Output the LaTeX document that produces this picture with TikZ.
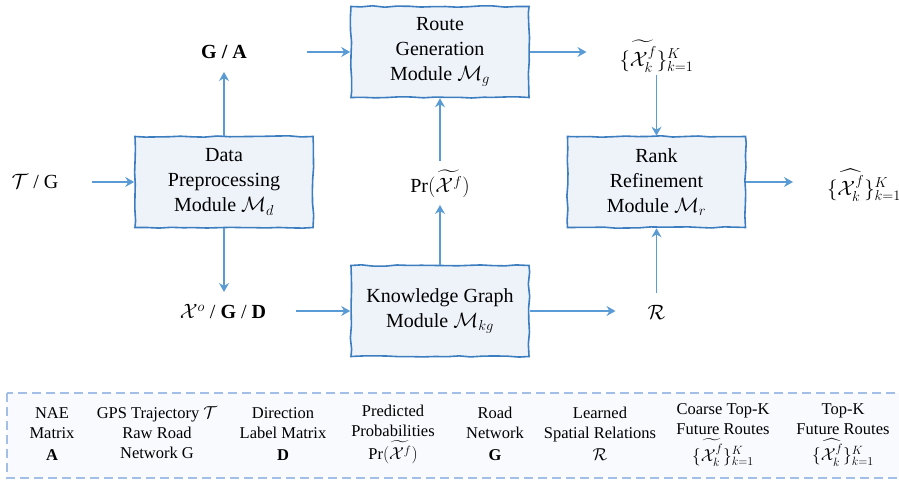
\documentclass[tikz,border=0pt]{standalone}
\usepackage{fontspec}
\setmainfont{Liberation Serif}
\usepackage{amsmath}
\usetikzlibrary{arrows.meta,decorations.pathmorphing,calc}
\definecolor{boxline}{HTML}{3C7DC0}
\definecolor{boxfill}{HTML}{EEF3FA}
\definecolor{arrowc}{HTML}{5B9BD5}
\definecolor{legdash}{HTML}{A3BFE8}
\definecolor{legfill}{HTML}{F8FAFE}
\begin{document}
\begin{tikzpicture}[x=1pt,y=-1pt,
  module/.style={draw=boxline, fill=boxfill, line width=1.6pt, minimum width=178pt, minimum height=91pt,
    align=center, inner sep=2pt, font=\fontsize{20}{25}\selectfont,
    decorate, decoration={random steps, segment length=12pt, amplitude=0.7pt}},
  lab/.style={inner sep=0pt, font=\fontsize{20}{25}\selectfont},
  legtext/.style={align=center, inner sep=0pt, font=\fontsize{16.5}{20}\selectfont},
  arr/.style={draw=arrowc, line width=1.4pt, -{Stealth[length=9pt,width=10pt,inset=3pt]}}]
\pgfmathsetseed{7}
\useasboundingbox (0,0) rectangle (899,481);

% modules
\node[module] (route) at (440,52)    {Route\\Generation\\Module $\mathcal{M}_g$};
\node[module] (data)  at (224,182)   {Data\\Preprocessing\\Module $\mathcal{M}_d$};
\node[module] (rank)  at (656.5,182) {Rank\\Refinement\\Module $\mathcal{M}_r$};
\node[module] (kg)    at (440,311)   {Knowledge Graph\\Module $\mathcal{M}_{kg}$};

% labels
\node[lab] (TG)   at (35,182)    {$\mathcal{T}$ / G};
\node[lab] (GA)   at (224,52)    {\textbf{G / A}};
\node[lab] (XoGD) at (223,312)   {$\mathcal{X}^o$ / \textbf{G} / \textbf{D}};
\node[lab] (Pr)   at (440,184)   {Pr$(\widetilde{\mathcal{X}^f})$};
\node[lab] (Xt)   at (656.5,56)  {$\{\widetilde{\mathcal{X}_k^f}\}_{k=1}^K$};
\node[lab] (R)    at (656.5,312) {$\mathcal{R}$};
\node[lab] (out)  at (864,185)   {$\{\widehat{\mathcal{X}_k^f}\}_{k=1}^K$};

% connectors
\draw[arr] ($(TG)+(57,0)$) -- (data.west);
\draw[arr] (data.north) -- ($(GA)+(0,20)$);
\draw[arr] ($(GA)+(83,0)$) -- (route.west);
\draw[arr] (data.south) -- ($(XoGD)+(1,-20)$);
\draw[arr] ($(XoGD)+(73,-1)$) -- (kg.west);
\draw[arr] (kg.north) -- ($(Pr)+(0,21)$);
\draw[arr] ($(Pr)+(0,-23)$) -- (route.south);
\draw[arr] (route.east) -- ($(Xt)+(-70,-4)$);
\draw[arr] ($(Xt)+(0,19)$) -- (rank.north);
\draw[arr] (kg.east) -- ($(R)+(-41,-1)$);
\draw[arr] ($(R)+(0,-19)$) -- (rank.south);
\draw[arr] (rank.east) -- ($(out)+(-71,-3)$);

% legend
\draw[draw=legdash, line width=1.5pt, dash pattern=on 9pt off 5pt, fill=legfill] (7,393) rectangle (912,478);
\node[legtext] (l1) at (52,434)  {NAE\\Matrix\\[2pt]\textbf{A}};
\node[legtext] (l2) at (157,433) {GPS Trajectory $\mathcal{T}$\\Raw Road\\Network G};
\node[legtext] (l3) at (283,434) {Direction\\Label Matrix\\[2pt]\textbf{D}};
\node[legtext] (l4) at (393,434) {Predicted\\Probabilities\\[3pt]Pr$(\widetilde{\mathcal{X}^f})$};
\node[legtext] (l5) at (495,434) {Road\\Network\\[2pt]\textbf{G}};
\node[legtext] (l6) at (600,434) {Learned\\Spatial Relations\\[2pt]$\mathcal{R}$};
\node[legtext] (l7) at (723,435) {Coarse Top-K\\Future Routes\\[3pt]$\{\widetilde{\mathcal{X}_k^f}\}_{k=1}^K$};
\node[legtext] (l8) at (843,435) {Top-K\\Future Routes\\[3pt]$\{\widehat{\mathcal{X}_k^f}\}_{k=1}^K$};
\end{tikzpicture}
\end{document}
